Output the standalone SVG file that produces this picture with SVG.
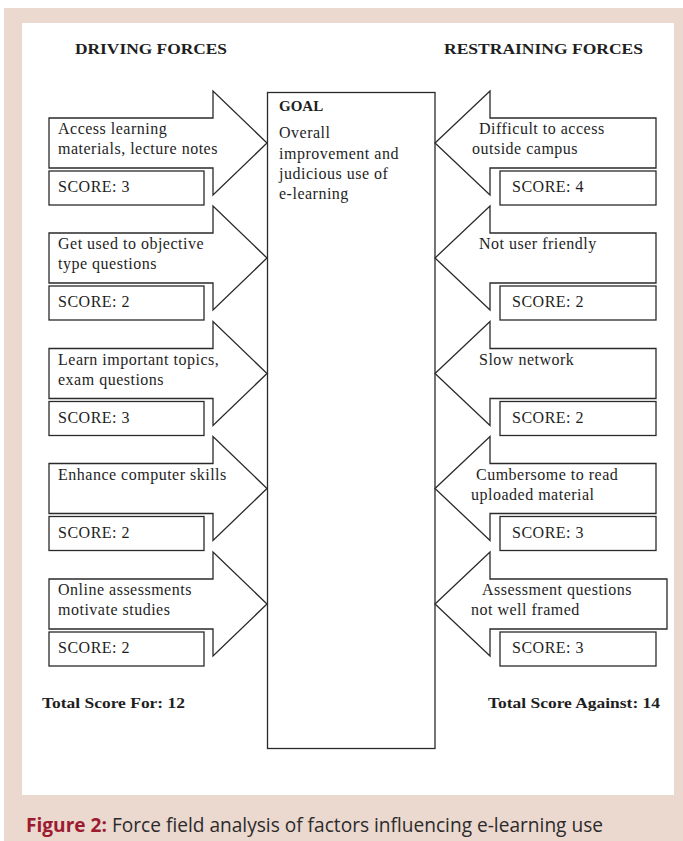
<svg xmlns="http://www.w3.org/2000/svg" width="683" height="841" viewBox="0 0 683 841">
<style>
.shape{fill:#fff;stroke:#2a2a2a;stroke-width:1.3;stroke-linejoin:miter}
.t{font-family:"Liberation Serif","Times New Roman",serif;font-size:16px;letter-spacing:0.5px;fill:#1e1e1e}
.b{font-family:"Liberation Serif","Times New Roman",serif;font-size:15px;font-weight:bold;fill:#1e1e1e}
.cap{font-family:"Open Sans","Liberation Sans",sans-serif;font-size:20px}
</style>
<rect x="0" y="0" width="683" height="841" fill="#fff"/>
<rect x="4" y="8" width="679" height="833" fill="#ebd8cf"/>
<rect x="22" y="23" width="652" height="772" fill="#fff"/>

<text class="b" x="75" y="54" textLength="152" lengthAdjust="spacingAndGlyphs">DRIVING FORCES</text>
<text class="b" x="444" y="54" textLength="199" lengthAdjust="spacingAndGlyphs">RESTRAINING FORCES</text>

<g id="goal">
<rect class="shape" x="267.5" y="92.5" width="167.5" height="656"/>
<text class="b" x="279" y="111" font-size="16">GOAL</text>
<text class="t" x="279" y="138">Overall</text>
<text class="t" x="279" y="159">improvement and</text>
<text class="t" x="279" y="179">judicious use of</text>
<text class="t" x="279" y="199">e-learning</text>
</g>

<g id="connectors">
<g id="d1">
<path class="shape" d="M49,118 H213 V91 L267,143 L213,195 V168 H49 Z"/>
<text class="t" x="58" y="134">Access learning</text>
<text class="t" x="58" y="154">materials, lecture notes</text>
<rect class="shape" x="49" y="171" width="155" height="34"/>
<text class="t" x="58" y="192">SCORE: 3</text>
</g>
<g id="d2">
<path class="shape" d="M49,233 H213 V206 L267,258 L213,310 V283 H49 Z"/>
<text class="t" x="58" y="249">Get used to objective</text>
<text class="t" x="58" y="269">type questions</text>
<rect class="shape" x="49" y="286" width="155" height="34"/>
<text class="t" x="58" y="307">SCORE: 2</text>
</g>
<g id="d3">
<path class="shape" d="M49,348.5 H213 V321.5 L267,373.5 L213,425.5 V398.5 H49 Z"/>
<text class="t" x="58" y="364.5">Learn important topics,</text>
<text class="t" x="58" y="384.5">exam questions</text>
<rect class="shape" x="49" y="401.5" width="155" height="34"/>
<text class="t" x="58" y="422.5">SCORE: 3</text>
</g>
<g id="d4">
<path class="shape" d="M49,463.5 H213 V436.5 L267,488.5 L213,540.5 V513.5 H49 Z"/>
<text class="t" x="58" y="479.5">Enhance computer skills</text>
<rect class="shape" x="49" y="516.5" width="155" height="34"/>
<text class="t" x="58" y="537.5">SCORE: 2</text>
</g>
<g id="d5">
<path class="shape" d="M49,579 H213 V552 L267,604 L213,656 V629 H49 Z"/>
<text class="t" x="58" y="595">Online assessments</text>
<text class="t" x="58" y="615">motivate studies</text>
<rect class="shape" x="49" y="632" width="155" height="34"/>
<text class="t" x="58" y="653">SCORE: 2</text>
</g>

<g id="r1">
<path class="shape" d="M656,118 H490 V91 L435,143 L490,195 V168 H656 Z"/>
<text class="t" x="479" y="134">Difficult to access</text>
<text class="t" x="472" y="154">outside campus</text>
<rect class="shape" x="500" y="171" width="156" height="34"/>
<text class="t" x="512" y="192">SCORE: 4</text>
</g>
<g id="r2">
<path class="shape" d="M656,233 H490 V206 L435,258 L490,310 V283 H656 Z"/>
<text class="t" x="479" y="249">Not user friendly</text>
<rect class="shape" x="500" y="286" width="156" height="34"/>
<text class="t" x="512" y="307">SCORE: 2</text>
</g>
<g id="r3">
<path class="shape" d="M656,348.5 H490 V321.5 L435,373.5 L490,425.5 V398.5 H656 Z"/>
<text class="t" x="479" y="364.5">Slow network</text>
<rect class="shape" x="500" y="401.5" width="156" height="34"/>
<text class="t" x="512" y="422.5">SCORE: 2</text>
</g>
<g id="r4">
<path class="shape" d="M656,463.5 H490 V436.5 L435,488.5 L490,540.5 V513.5 H656 Z"/>
<text class="t" x="476" y="479.5">Cumbersome to read</text>
<text class="t" x="471" y="499.5">uploaded material</text>
<rect class="shape" x="500" y="516.5" width="156" height="34"/>
<text class="t" x="512" y="537.5">SCORE: 3</text>
</g>
<g id="r5">
<path class="shape" d="M667,579 H490 V552 L435,604 L490,656 V629 H667 Z"/>
<text class="t" x="482" y="595">Assessment questions</text>
<text class="t" x="471" y="615">not well framed</text>
<rect class="shape" x="500" y="632" width="156" height="34"/>
<text class="t" x="512" y="653">SCORE: 3</text>
</g>
</g>

<text class="b" x="42" y="708" textLength="143" lengthAdjust="spacingAndGlyphs">Total Score For: 12</text>
<text class="b" x="488" y="708" textLength="172" lengthAdjust="spacingAndGlyphs">Total Score Against: 14</text>

<text class="cap" x="26" y="832" textLength="577" lengthAdjust="spacingAndGlyphs"><tspan font-weight="bold" fill="#9b1b30">Figure 2:</tspan><tspan fill="#2b2b2b"> Force field analysis of factors influencing e-learning use</tspan></text>
</svg>
